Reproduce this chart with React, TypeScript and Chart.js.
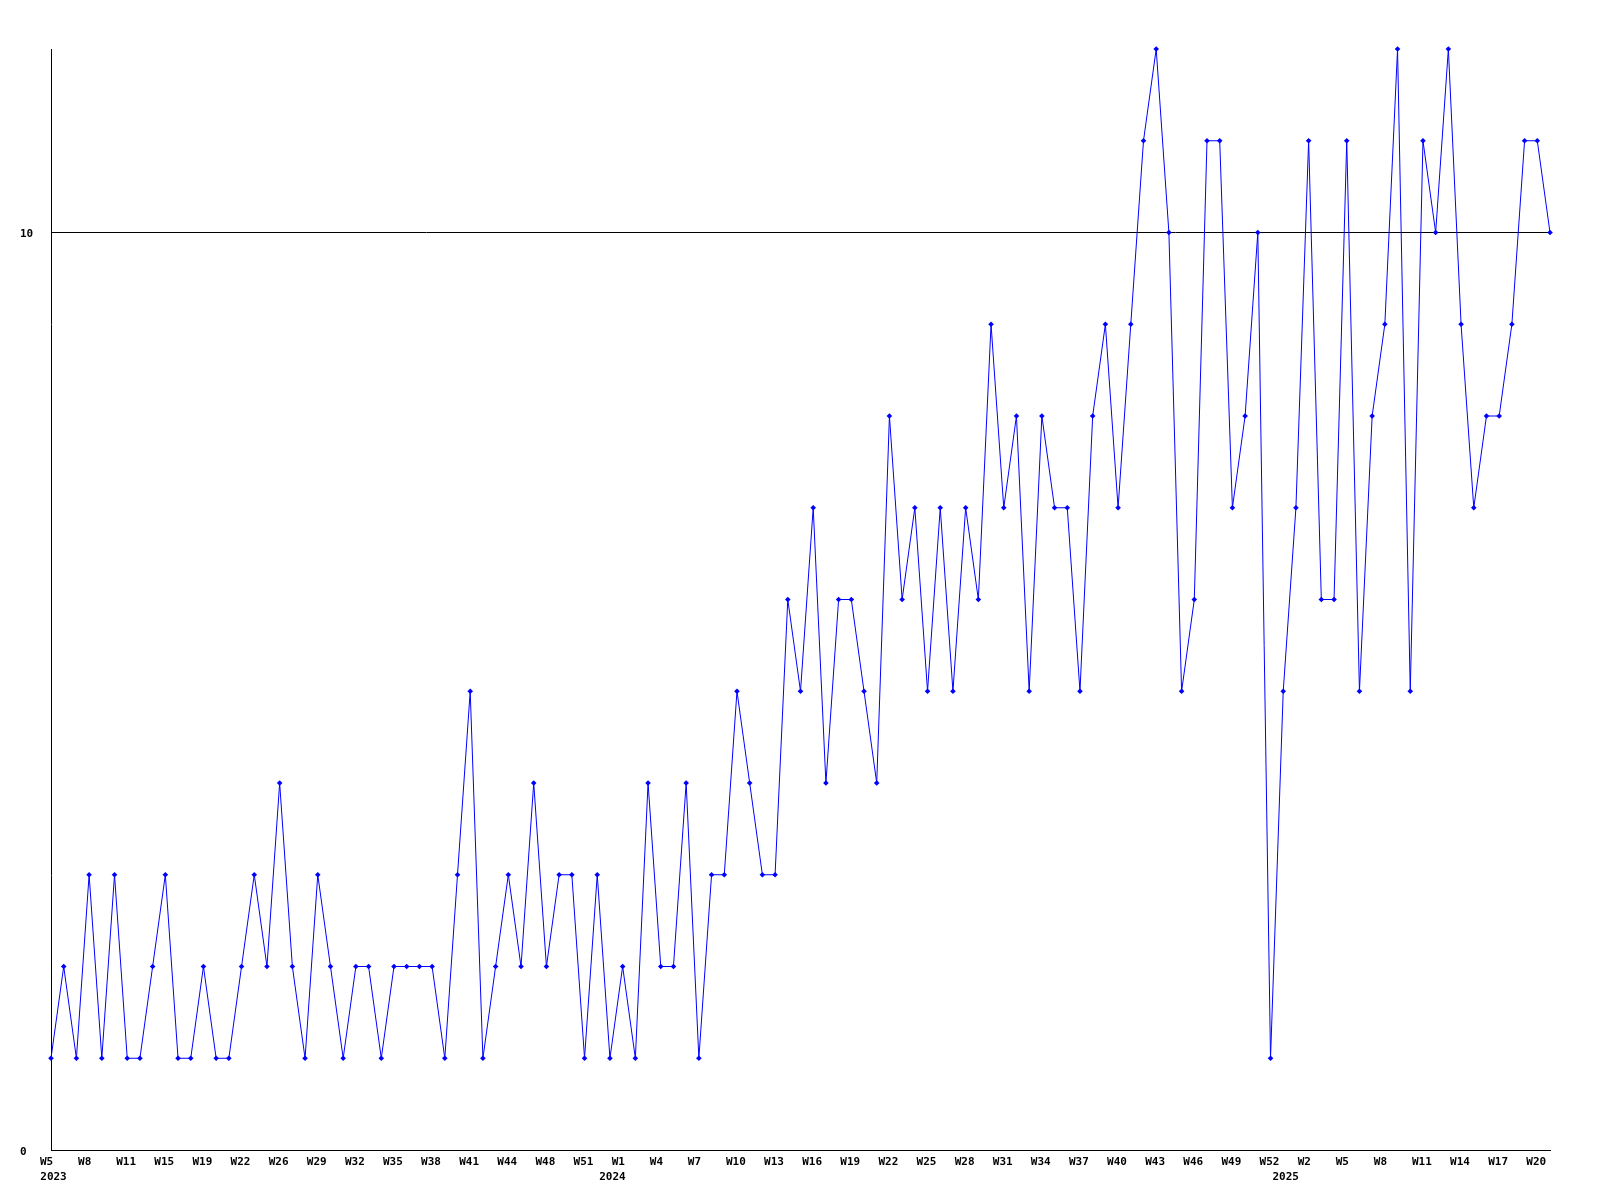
import { useEffect, useRef } from "react";
import { Chart, registerables } from "chart.js";

Chart.register(...registerables);

// Week numbers of the weeks that have data, per year
const weeks2023 = [5, 6, 7, 8, 9, 10, 11, 12, 14, 15, 16, 18, 19, 20, 21, 22, 23, 25, 26, 27, 28, 29, 30, 31, 32, 33, 34, 35, 36, 37, 38, 39, 40, 41, 42, 43, 44, 45, 47, 48, 49, 50, 51, 52];
const weeks2024 = [0, 1, 2, 3, 4, 5, 6, 7, 8, 9, 10, 11, 12, 13, 14, 15, 16, 17, 18, 19, 20, 21, 22, 23, 24, 25, 26, 27, 28, 29, 30, 31, 32, 33, 34, 35, 36, 37, 38, 39, 40, 41, 42, 43, 44, 45, 46, 47, 48, 49, 50, 51, 52];
const weeks2025 = [0, 1, 2, 3, 4, 5, 6, 7, 8, 9, 10, 11, 12, 13, 14, 15, 16, 17, 18, 19, 20, 21];

const years = ["2023", "2024", "2025"];

// Weekly counts
const counts = [
  1, 2, 1, 3, 1, 3, 1, 1, 2, 3, 1, 1, 2, 1, 1, 2, 3, 2, 4, 2, 1, 3, 2, 1, 2, 2, 1, 2, 2, 2, 2, 1, 3, 5, 1, 2, 3, 2, 4,
  2, 3, 3, 1, 3, 1, 2, 1, 4, 2, 2, 4, 1, 3, 3, 5, 4, 3, 3, 6, 5, 7, 4, 6, 6, 5, 4, 8, 6, 7, 5, 7, 5, 7, 6, 9, 7, 8, 5,
  8, 7, 7, 5, 8, 9, 7, 9, 11, 12, 10, 5, 6, 11, 11, 7, 8, 10, 1, 5, 7, 11, 6, 6, 11, 5, 8, 9, 12, 5, 11, 10, 12, 9, 7, 8, 8, 9, 11, 11, 10,
];

const yTicks = [0, 10];
const yMin = 0;
const yMax = 12;
const weekTickEvery = 3;

const categories: string[] = [
  ...weeks2023.map((w) => `${years[0]}-W${w}`),
  ...weeks2024.map((w) => `${years[1]}-W${w}`),
  ...weeks2025.map((w) => `${years[2]}-W${w}`),
];

const weekOf = (i: number) => "W" + categories[i].split("-W")[1];
const yearOf = (i: number) => categories[i].split("-W")[0];
const yearTickAt = (i: number) => (i === 0 || yearOf(i) !== yearOf(i - 1) ? yearOf(i) : null);

export default function App() {
  const ref = useRef<HTMLCanvasElement>(null);

  useEffect(() => {
    const canvas = ref.current;
    if (!canvas) return;
    const font = { family: "'DejaVu Sans Mono', monospace", size: 11, weight: "bold" as const };
    const chart = new Chart(canvas, {
      type: "line",
      data: {
        labels: categories,
        datasets: [
          {
            data: counts,
            borderColor: "#0000ff",
            backgroundColor: "#0000ff",
            borderWidth: 1,
            pointStyle: "rectRot",
            pointRadius: 2.8,
            pointBorderWidth: 0,
            pointBackgroundColor: "#0000ff",
            tension: 0,
            fill: false,
            clip: false as any,
          },
        ],
      },
      options: {
        responsive: false,
        animation: false,
        layout: { padding: { left: 12, right: 42, top: 41, bottom: 2 } },
        plugins: { legend: { display: false }, tooltip: { enabled: false } },
        scales: {
          x: {
            type: "category",
            position: "bottom",
            weight: 0,
            offset: false,
            grid: { display: false, drawTicks: false },
            border: { display: true, color: "#000000", width: 1 },
            ticks: {
              autoSkip: false,
              maxRotation: 0,
              minRotation: 0,
              align: "start",
              labelOffset: -11,
              padding: 6,
              color: "#000000",
              font,
              callback: (_v: any, i: number) => (i % weekTickEvery === 0 ? weekOf(i) : null),
            },
            afterFit: (s: any) => {
              s.height = 18;
            },
          },
          x2: {
            type: "category",
            position: "bottom",
            weight: 1,
            offset: false,
            grid: { display: false, drawTicks: false },
            border: { display: false },
            ticks: {
              autoSkip: false,
              maxRotation: 0,
              minRotation: 0,
              labelOffset: 2.5,
              padding: 3,
              color: "#000000",
              font,
              callback: (_v: any, i: number) => yearTickAt(i),
            },
            afterFit: (s: any) => {
              s.height = 22;
            },
          },
          y: {
            type: "linear",
            position: "left",
            min: yMin,
            max: yMax,
            grid: { color: "#000000", lineWidth: 1, drawTicks: false },
            border: { display: true, color: "#000000", width: 1 },
            ticks: { crossAlign: "far", padding: 0, labelOffset: 2, color: "#000000", font },
            afterBuildTicks: (s: any) => {
              s.ticks = yTicks.map((v) => ({ value: v }));
            },
            afterFit: (s: any) => {
              s.width = 31;
            },
          },
        },
      } as any,
    });
    return () => chart.destroy();
  }, []);

  return <canvas ref={ref} width={1584} height={1184} style={{ display: "block" }} />;
}
